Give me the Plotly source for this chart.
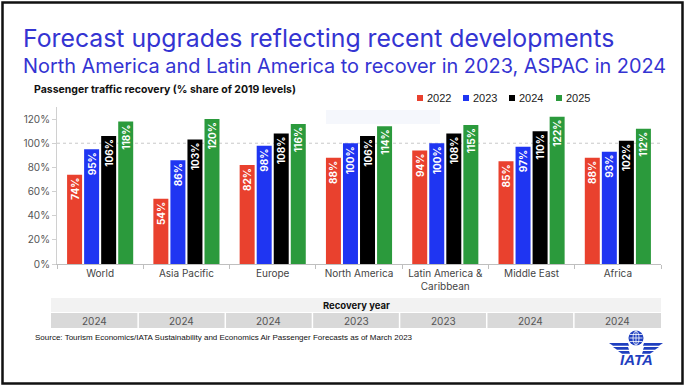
import plotly.graph_objects as go

# ---------------- data ----------------
regions = ["World", "Asia Pacific", "Europe", "North America",
           "Latin America &<br>Caribbean", "Middle East", "Africa"]
years = ["2022", "2023", "2024", "2025"]
v2022 = [74, 54, 82, 88, 94, 85, 88]
v2023 = [95, 86, 98, 100, 100, 97, 93]
v2024 = [106, 103, 108, 106, 108, 110, 102]
v2025 = [118, 120, 116, 114, 115, 122, 112]
recovery_years = ["2024", "2024", "2024", "2023", "2023", "2024", "2024"]
y_ticks = [0, 20, 40, 60, 80, 100, 120]
colors = ["#e9412e", "#1f35f2", "#000000", "#2b9a3c"]
series = [v2022, v2023, v2024, v2025]

W, H = 686, 386
L, R, T, B = 57, 661, 107, 264  # plot area in pixels


def px(x):
    return (x - L) / (R - L)


def py(y):
    return (B - y) / (B - T)


FONT = "Inter"

fig = go.Figure()
for name, vals, col in zip(years, series, colors):
    fig.add_trace(go.Bar(
        x=regions, y=vals, name=name, marker_color=col,
        marker_line_width=0,
        text=[f"{v}%" for v in vals], texttemplate="%{text}",
        textposition="inside", insidetextanchor="end", textangle=-90,
        textfont=dict(color="white", size=10, family=FONT, weight="bold"),
        showlegend=False, cliponaxis=False,
    ))

shapes = []
annotations = []

# 100% reference line (dotted)
shapes.append(dict(type="line", xref="paper", yref="y", x0=0, x1=1, y0=100, y1=100,
                   line=dict(color="#c8c8c8", width=1, dash="dot"), layer="below"))

# faint highlight box
shapes.append(dict(type="rect", xref="paper", yref="paper",
                   x0=px(326), x1=px(440), y0=py(124), y1=py(110),
                   fillcolor="#f5f7fc", line_width=0, layer="below"))

# legend (manual)
leg_x = [417, 463, 509, 556]
for xx, name, col in zip(leg_x, years, colors):
    shapes.append(dict(type="rect", xref="paper", yref="paper",
                       x0=px(xx), x1=px(xx + 6), y0=py(101), y1=py(95),
                       fillcolor=col, line_width=0))
    annotations.append(dict(text=name, xref="paper", yref="paper",
                            x=px(xx + 8), y=py(98), xanchor="left", yanchor="middle",
                            showarrow=False, font=dict(size=11, color="#222", family="Liberation Sans")))

# titles
annotations.append(dict(text="Forecast upgrades reflecting recent developments",
                        xref="paper", yref="paper", x=px(21), y=py(37.5),
                        xanchor="left", yanchor="middle", showarrow=False,
                        font=dict(size=24.8, color="#3434d2", family=FONT)))
annotations.append(dict(text="North America and Latin America to recover in 2023, ASPAC in 2024",
                        xref="paper", yref="paper", x=px(21), y=py(65.5),
                        xanchor="left", yanchor="middle", showarrow=False,
                        font=dict(size=19.9, color="#3434d2", family=FONT)))
annotations.append(dict(text="<b>Passenger traffic recovery (% share of 2019 levels)</b>",
                        xref="paper", yref="paper", x=px(32), y=py(89),
                        xanchor="left", yanchor="middle", showarrow=False,
                        font=dict(size=10.5, color="#111", family=FONT)))

# recovery year table
tL, tR = 51, 661
shapes.append(dict(type="rect", xref="paper", yref="paper",
                   x0=px(tL), x1=px(tR), y0=py(312), y1=py(298),
                   fillcolor="#f2f2f2", line_width=0))
annotations.append(dict(text="<b>Recovery year</b>", xref="paper", yref="paper",
                        x=px((tL + tR) / 2), y=py(305), xanchor="center", yanchor="middle",
                        showarrow=False, font=dict(size=9.5, color="#111", family=FONT)))
shapes.append(dict(type="rect", xref="paper", yref="paper",
                   x0=px(tL), x1=px(tR), y0=py(328), y1=py(313),
                   fillcolor="#d9d9d9", line_width=0))
cw = (tR - tL) / len(recovery_years)
for i, ry in enumerate(recovery_years):
    if i > 0:
        xx = tL + i * cw
        shapes.append(dict(type="line", xref="paper", yref="paper",
                           x0=px(xx), x1=px(xx), y0=py(328), y1=py(313),
                           line=dict(color="white", width=1.5)))
    annotations.append(dict(text=ry, xref="paper", yref="paper",
                            x=px(tL + (i + 0.5) * cw), y=py(320.5), xanchor="center", yanchor="middle",
                            showarrow=False, font=dict(size=10, color="#555", family=FONT)))

# source
annotations.append(dict(text="Source: Tourism Economics/IATA Sustainability and Economics Air Passenger Forecasts as of March 2023",
                        xref="paper", yref="paper", x=px(33), y=py(337),
                        xanchor="left", yanchor="middle", showarrow=False,
                        font=dict(size=8, color="#111", family="Liberation Sans")))

# IATA logo
LB = "#1f3fbf"
gx, gy, gr = 636, 338, 7.5
shapes.append(dict(type="circle", xref="paper", yref="paper",
                   x0=px(gx - gr), x1=px(gx + gr), y0=py(gy + gr), y1=py(gy - gr),
                   fillcolor=LB, line_width=0))
for dy in (-3.5, 0, 3.5):
    shapes.append(dict(type="line", xref="paper", yref="paper",
                       x0=px(gx - gr + 1), x1=px(gx + gr - 1), y0=py(gy + dy), y1=py(gy + dy),
                       line=dict(color="white", width=0.8)))
shapes.append(dict(type="circle", xref="paper", yref="paper",
                   x0=px(gx - 3), x1=px(gx + 3), y0=py(gy + gr - 0.5), y1=py(gy - gr + 0.5),
                   line=dict(color="white", width=0.8)))
shapes.append(dict(type="line", xref="paper", yref="paper",
                   x0=px(gx), x1=px(gx), y0=py(gy + gr), y1=py(gy - gr),
                   line=dict(color="white", width=0.8)))
for k, (yy, l_in, l_out) in enumerate([(343, 628, 609), (347, 628, 613), (351, 629, 618)]):
    shapes.append(dict(type="path", xref="paper", yref="paper",
                       path=f"M {px(l_out)} {py(yy)} L {px(l_in)} {py(yy)} L {px(l_in+1)} {py(yy+2.7)} L {px(l_out+4)} {py(yy+2.7)} Z",
                       fillcolor=LB, line_width=0))
    r_in, r_out = 2 * gx - l_in, 2 * gx - l_out
    shapes.append(dict(type="path", xref="paper", yref="paper",
                       path=f"M {px(r_out)} {py(yy)} L {px(r_in)} {py(yy)} L {px(r_in-1)} {py(yy+2.7)} L {px(r_out-4)} {py(yy+2.7)} Z",
                       fillcolor=LB, line_width=0))
annotations.append(dict(text="<b><i>IATA</i></b>", xref="paper", yref="paper",
                        x=px(636), y=py(359), xanchor="center", yanchor="middle",
                        showarrow=False, font=dict(size=15, color=LB, family="Liberation Sans")))

# frame
shapes.append(dict(type="rect", xref="paper", yref="paper",
                   x0=px(2.5), x1=px(682.5), y0=py(383.5), y1=py(2.5),
                   line=dict(color="#111", width=2.5), fillcolor="rgba(0,0,0,0)"))

fig.update_layout(
    width=W, height=H,
    margin=dict(l=L, r=W - R, t=T, b=H - B, pad=0),
    paper_bgcolor="white", plot_bgcolor="white",
    barmode="group", bargap=0.21, bargroupgap=0.12,
    shapes=shapes, annotations=annotations,
    uniformtext=dict(minsize=10, mode="show"),
    font=dict(family=FONT),
    xaxis=dict(showline=True, linecolor="#bfbfbf", linewidth=1,
               ticks="outside", tickson="boundaries", ticklen=4, tickcolor="#bfbfbf",
               tickfont=dict(size=10, color="#444", family=FONT), showgrid=False,
               fixedrange=True),
    yaxis=dict(range=[0, 130], tickvals=y_ticks, ticktext=[f"{t}%" for t in y_ticks],
               showline=True, linecolor="#d0d0d0", linewidth=1,
               ticks="outside", ticklen=4, tickcolor="#d0d0d0",
               tickfont=dict(size=10, color="#555", family=FONT), showgrid=False,
               zeroline=False, fixedrange=True),
)

fig.write_html("out.html", config={"displayModeBar": False},
               post_script="document.body.style.margin='0';document.body.style.overflow='hidden';")
